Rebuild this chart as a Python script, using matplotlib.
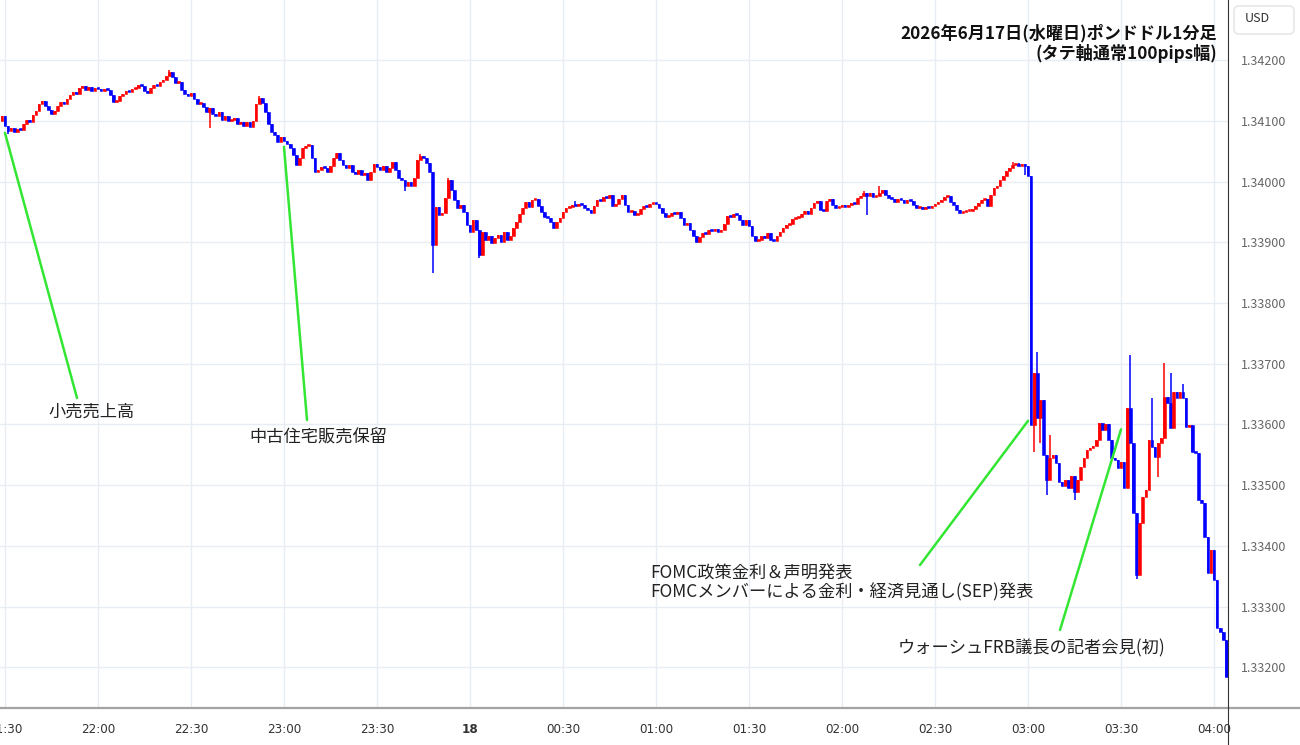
import numpy as np
import pandas as pd
import matplotlib
matplotlib.use('Agg')
import matplotlib.pyplot as plt
from matplotlib.lines import Line2D
from matplotlib.patches import FancyBboxPatch

plt.rcParams['font.family'] = ['Noto Sans CJK JP', 'DejaVu Sans']

# GBP/USD 1-minute candles, 2026-06-17 21:29 .. 18th 04:04 (JST)
first_open = 1.34100
closes = [
    1.34108, 1.34091, 1.34083, 1.34088, 1.34081, 1.34086, 1.34085, 1.34095, 1.34101, 1.34098,
    1.34109, 1.34116, 1.34128, 1.34133, 1.34124, 1.34118, 1.34111, 1.34116, 1.34124, 1.34131,
    1.34128, 1.34136, 1.34142, 1.34147, 1.34144, 1.34154, 1.34157, 1.34151, 1.34156, 1.34149,
    1.34154, 1.34152, 1.34149, 1.34152, 1.34151, 1.34142, 1.34131, 1.34133, 1.34141, 1.34144,
    1.34149, 1.34147, 1.34152, 1.34154, 1.34159, 1.34157, 1.34149, 1.34146, 1.34154, 1.34159,
    1.34157, 1.34164, 1.34167, 1.34174, 1.34180, 1.34172, 1.34162, 1.34164, 1.34151, 1.34144,
    1.34141, 1.34146, 1.34136, 1.34128, 1.34129, 1.34123, 1.34114, 1.34121, 1.34111, 1.34108,
    1.34114, 1.34101, 1.34108, 1.34100, 1.34101, 1.34105, 1.34095, 1.34098, 1.34091, 1.34098,
    1.34090, 1.34100, 1.34128, 1.34137, 1.34129, 1.34114, 1.34095, 1.34081, 1.34077, 1.34065,
    1.34073, 1.34067, 1.34062, 1.34055, 1.34044, 1.34027, 1.34039, 1.34055, 1.34058, 1.34060,
    1.34039, 1.34016, 1.34019, 1.34024, 1.34022, 1.34016, 1.34026, 1.34039, 1.34047, 1.34035,
    1.34027, 1.34022, 1.34027, 1.34016, 1.34012, 1.34019, 1.34011, 1.34014, 1.34002, 1.34016,
    1.34029, 1.34024, 1.34019, 1.34026, 1.34016, 1.34022, 1.34032, 1.34019, 1.34006, 1.34002,
    1.33993, 1.33999, 1.33993, 1.34006, 1.34035, 1.34042, 1.34039, 1.34030, 1.34016, 1.33895,
    1.33958, 1.33945, 1.33948, 1.33973, 1.34002, 1.33986, 1.33970, 1.33956, 1.33961, 1.33950,
    1.33928, 1.33917, 1.33937, 1.33920, 1.33879, 1.33917, 1.33904, 1.33910, 1.33899, 1.33907,
    1.33912, 1.33900, 1.33917, 1.33904, 1.33910, 1.33923, 1.33933, 1.33947, 1.33956, 1.33966,
    1.33958, 1.33970, 1.33971, 1.33960, 1.33950, 1.33942, 1.33940, 1.33933, 1.33923, 1.33933,
    1.33940, 1.33950, 1.33956, 1.33958, 1.33961, 1.33960, 1.33963, 1.33961, 1.33956, 1.33953,
    1.33948, 1.33960, 1.33970, 1.33968, 1.33974, 1.33973, 1.33978, 1.33960, 1.33963, 1.33971,
    1.33978, 1.33961, 1.33950, 1.33951, 1.33945, 1.33947, 1.33955, 1.33960, 1.33958, 1.33963,
    1.33965, 1.33963, 1.33956, 1.33948, 1.33942, 1.33943, 1.33948, 1.33947, 1.33950, 1.33940,
    1.33928, 1.33932, 1.33920, 1.33910, 1.33900, 1.33909, 1.33915, 1.33914, 1.33920, 1.33919,
    1.33922, 1.33917, 1.33920, 1.33930, 1.33943, 1.33942, 1.33947, 1.33945, 1.33937, 1.33928,
    1.33937, 1.33927, 1.33910, 1.33902, 1.33904, 1.33910, 1.33907, 1.33915, 1.33904, 1.33902,
    1.33910, 1.33917, 1.33923, 1.33928, 1.33930, 1.33938, 1.33940, 1.33942, 1.33947, 1.33951,
    1.33947, 1.33956, 1.33965, 1.33968, 1.33953, 1.33951, 1.33968, 1.33971, 1.33961, 1.33956,
    1.33958, 1.33961, 1.33958, 1.33961, 1.33965, 1.33963, 1.33973, 1.33976, 1.33981, 1.33976,
    1.33981, 1.33974, 1.33976, 1.33981, 1.33986, 1.33978, 1.33973, 1.33971, 1.33966, 1.33971,
    1.33970, 1.33965, 1.33970, 1.33968, 1.33961, 1.33956, 1.33958, 1.33955, 1.33958, 1.33956,
    1.33960, 1.33963, 1.33966, 1.33970, 1.33974, 1.33976, 1.33966, 1.33961, 1.33953, 1.33948,
    1.33950, 1.33951, 1.33951, 1.33955, 1.33960, 1.33965, 1.33970, 1.33971, 1.33960, 1.33978,
    1.33989, 1.33993, 1.34002, 1.34009, 1.34017, 1.34022, 1.34027, 1.34029, 1.34026, 1.34029,
    1.34026, 1.34009, 1.33599, 1.33685, 1.33611, 1.33640, 1.33550, 1.33509, 1.33545, 1.33550,
    1.33537, 1.33505, 1.33499, 1.33509, 1.33495, 1.33515, 1.33489, 1.33509, 1.33530, 1.33545,
    1.33558, 1.33561, 1.33565, 1.33574, 1.33602, 1.33591, 1.33601, 1.33574, 1.33545, 1.33542,
    1.33528, 1.33538, 1.33495, 1.33627, 1.33570, 1.33454, 1.33352, 1.33438, 1.33481, 1.33492,
    1.33574, 1.33563, 1.33547, 1.33570, 1.33578, 1.33645, 1.33635, 1.33594, 1.33653, 1.33644,
    1.33653, 1.33644, 1.33596, 1.33599, 1.33555, 1.33553, 1.33476, 1.33471, 1.33415, 1.33356,
    1.33393, 1.33344, 1.33265, 1.33258, 1.33245, 1.33184,
]
# notable wicks (candle number -> price)
highs = {54: 1.34183, 83: 1.34140, 135: 1.34046, 144: 1.34005, 185: 1.33968, 278: 1.33985,
         283: 1.33993, 326: 1.34032, 328: 1.34031, 334: 1.33719, 338: 1.33583, 364: 1.33714,
         371: 1.33644, 375: 1.33701, 377: 1.33685, 381: 1.33666}
lows = {2: 1.34078, 67: 1.34088, 130: 1.33985, 139: 1.33849, 154: 1.33874, 279: 1.33945,
        330: 1.34011, 333: 1.33555, 335: 1.33570, 337: 1.33484, 346: 1.33475, 366: 1.33345,
        373: 1.33514}

price_ticks = [1.332, 1.333, 1.334, 1.335, 1.336, 1.337, 1.338, 1.339, 1.340, 1.341, 1.342]

events = ['小売売上高', '中古住宅販売保留', 'FOMC', 'ウォーシュFRB議長の記者会見(初)']
event_times = ['2026-06-17 21:30', '2026-06-17 23:00', '2026-06-18 03:00', '2026-06-18 03:30']
event_prices = [1.34080, 1.34057, 1.33606, 1.33592]
fomc_lines = ['FOMC政策金利＆声明発表', 'FOMCメンバーによる金利・経済見通し(SEP)発表']

times = pd.date_range('2026-06-17 21:29', periods=len(closes), freq='min')
closes = np.array(closes)
opens = np.concatenate([[first_open], closes[:-1]])
x = np.arange(len(closes))
hi = np.maximum(opens, closes)
lo = np.minimum(opens, closes)
for k, v in highs.items():
    hi[k] = v
for k, v in lows.items():
    lo[k] = v
colors = np.where(closes >= opens, '#ff0000', '#0000ff')

W, H = 1300, 745
fig = plt.figure(figsize=(13, 7.45), dpi=100)
ax = fig.add_axes([0, 1 - 708 / H, 1228 / W, 708 / H])

ax.vlines(x, lo, hi, colors=colors, lw=1.1, zorder=3)
body = np.maximum(np.abs(closes - opens), 0.00003)
ax.bar(x, body, bottom=np.minimum(opens, closes), width=0.86, color=colors,
       edgecolor=colors, lw=0.4, zorder=3)

ax.set_xlim(-0.6, 395.5)
ax.set_ylim(1.331333, 1.342988)

# time axis
tick_idx = [i for i, t in enumerate(times) if t.minute % 30 == 0]
tick_lab = []
for i in tick_idx:
    t = times[i]
    tick_lab.append(str(t.day) if (t.hour == 0 and t.minute == 0) else t.strftime('%H:%M'))
ax.set_xticks(tick_idx)
ax.set_xticklabels(tick_lab)
for lab in ax.get_xticklabels():
    lab.set_family('DejaVu Sans')
    lab.set_stretch('condensed')
    if lab.get_text() == '18':
        lab.set_weight('bold')
ax.tick_params(axis='x', length=0, pad=11, labelsize=9.5, labelcolor='#333333')

ax.yaxis.tick_right()
ax.set_yticks(price_ticks)
ax.set_yticklabels(['%.5f' % p for p in price_ticks])
ax.tick_params(axis='y', length=0, pad=9, labelsize=9, labelcolor='#666666')

ax.grid(True, color='#e8edf3', lw=1)
ax.set_axisbelow(True)
for s in ax.spines.values():
    s.set_visible(False)

fig.add_artist(Line2D([0, 1], [1 - 708 / H] * 2, transform=fig.transFigure, color='#a3a3a3', lw=1.6))
fig.add_artist(Line2D([1228 / W] * 2, [0, 1], transform=fig.transFigure, color='#333333', lw=0.8))

# USD box
fig.add_artist(FancyBboxPatch((1234, H - 34), 60, 28, boxstyle='round,pad=0,rounding_size=5',
                              transform=None, facecolor='white', edgecolor='#e3e3e3', lw=1))
fig.text(1257 / W, 1 - 19 / H, 'USD', ha='center', va='center', fontsize=9, color='#333333')

# title
ax.text(0.991, 0.953, '2026年6月17日(水曜日)ポンドドル1分足', transform=ax.transAxes,
        ha='right', va='center', fontsize=12.3, weight='bold', color='#111111')
ax.text(0.991, 0.925, '(タテ軸通常100pips幅)', transform=ax.transAxes,
        ha='right', va='center', fontsize=12.3, weight='bold', color='#111111')

# annotations
green = '#33e633'
line_start = [(0.0627, 0.4379), (0.25, 0.4068), (0.7492, 0.202), (0.8632, 0.1102)]
for t, p, st in zip(event_times, event_prices, line_start):
    k = times.get_loc(pd.Timestamp(t))
    ax.annotate('', xy=(k, p), xycoords='data', xytext=st, textcoords='axes fraction',
                arrowprops=dict(arrowstyle='-', color=green, lw=1.8, shrinkA=0, shrinkB=0))

fs = 12.4
ax.text(0.0749, 0.418, events[0], transform=ax.transAxes, ha='center', va='center',
        fontsize=fs, color='#222222')
ax.text(0.259, 0.3814, events[1], transform=ax.transAxes, ha='center', va='center',
        fontsize=fs, color='#222222')
ax.text(0.5293, 0.1893, fomc_lines[0], transform=ax.transAxes, ha='left', va='center',
        fontsize=fs, color='#222222')
ax.text(0.5293, 0.1638, fomc_lines[1], transform=ax.transAxes, ha='left', va='center',
        fontsize=fs, color='#222222')
ax.text(0.7313, 0.0847, events[3], transform=ax.transAxes, ha='left', va='center',
        fontsize=fs, color='#222222')

fig.savefig('out.png', dpi=100)
